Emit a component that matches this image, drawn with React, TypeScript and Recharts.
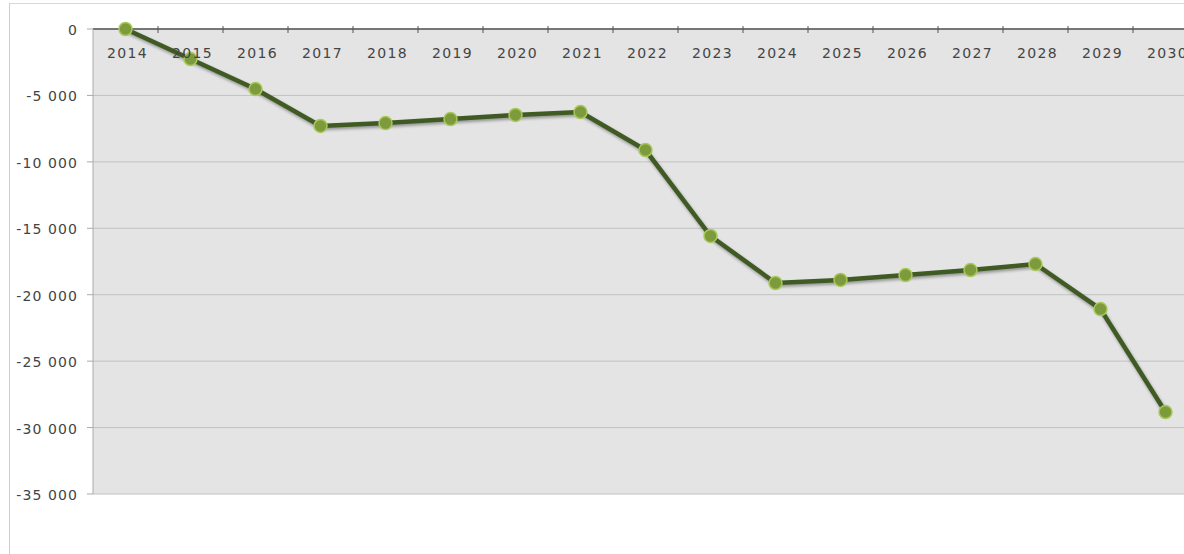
import { LineChart, Line, XAxis, YAxis, CartesianGrid } from 'recharts';

const years = ['2014', '2015', '2016', '2017', '2018', '2019', '2020', '2021', '2022', '2023', '2024', '2025', '2026', '2027', '2028', '2029', '2030'];
const balance = [0, -2260, -4520, -7300, -7080, -6780, -6470, -6250, -9110, -15580, -19120, -18890, -18520, -18140, -17690, -21080, -28830];
const yTicks = [0, -5000, -10000, -15000, -20000, -25000, -30000, -35000];

const data = years.map((year, i) => ({ year, balance: balance[i] }));

const LEFT = 93;
const PLOT_W = 1105;
const BAND = PLOT_W / years.length;
const X_AXIS_H = 20;
const FONT = 'DejaVu Sans, Verdana, sans-serif';

const fmt = (v: number) => {
    const s = Math.abs(v).toString().replace(/\B(?=(\d{3})+(?!\d))/g, ' ');
    return v < 0 ? `-${s}` : s;
};

// labels sit under the axis line, ticks between the categories
function YearTick(props: any) {
    const { x, y, payload } = props;
    const base = y + 2;
    return (
        <g>
            <line x1={x + BAND / 2} x2={x + BAND / 2} y1={base - 3} y2={base + 4} stroke="#555" strokeWidth={1} />
            <text x={x + 2} y={base + 29} textAnchor="middle" fontSize={14} letterSpacing={1.4} fill="#444" fontFamily={FONT}>
                {payload.value}
            </text>
        </g>
    );
}

export default function App() {
    return (
        <div style={{ position: 'fixed', left: 0, top: 0, width: 1184, height: 554, overflow: 'hidden', background: '#fff' }}>
            <style>{`.rline .recharts-line-curve { filter: drop-shadow(1px 2px 1.5px rgba(0,0,0,0.35)); }`}</style>
            <div style={{ position: 'absolute', left: 9, top: 3, width: 1200, height: 600, borderLeft: '1px solid #cfcfcf', borderTop: '1px solid #d8d8d8' }} />
            <div style={{ position: 'absolute', left: 0, top: 0 }}>
                <LineChart width={LEFT + PLOT_W} height={554} data={data} margin={{ top: 29 - X_AXIS_H, right: 0, left: 0, bottom: 60 }}>
                    <CartesianGrid vertical={false} stroke="#c2c2c2" fill="#e4e4e4" />
                    <XAxis
                        dataKey="year"
                        orientation="top"
                        height={X_AXIS_H}
                        padding={{ left: BAND / 2, right: BAND / 2 }}
                        axisLine={{ stroke: '#555', strokeWidth: 1.5 }}
                        tickLine={false}
                        tickSize={0}
                        tick={<YearTick />}
                        interval={0}
                    />
                    <YAxis
                        width={LEFT}
                        domain={[-35000, 0]}
                        ticks={yTicks}
                        interval={0}
                        tickFormatter={fmt}
                        axisLine={{ stroke: '#aaa' }}
                        tickLine={{ stroke: '#aaa' }}
                        tickSize={6}
                        tickMargin={9}
                        tick={{ fontSize: 14, fill: '#444', fontFamily: FONT, letterSpacing: 1.1, dy: 1 }}
                    />
                    <Line
                        className="rline"
                        type="linear"
                        dataKey="balance"
                        stroke="#3f5a22"
                        strokeWidth={4.5}
                        dot={{ r: 6.5, fill: '#7d9b3c', stroke: '#a8c85a', strokeWidth: 1.5 }}
                        isAnimationActive={false}
                    />
                </LineChart>
            </div>
        </div>
    );
}
